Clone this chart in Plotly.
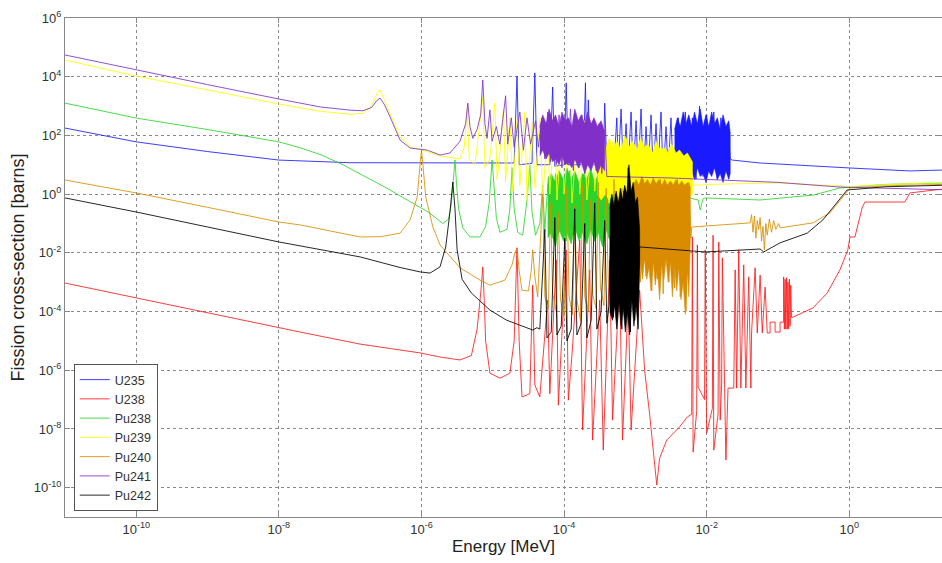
import plotly.graph_objects as go

# ---------------- data (log10 energy [MeV], log10 cross-section [barns]) ----------------
SERIES_NAMES = ["U235", "U238", "Pu238", "Pu239", "Pu240", "Pu241", "Pu242"]

U235_PTS = [(-11, 2.25), (-10, 1.78), (-9, 1.45), (-8, 1.16), (-7, 1.07), (-6, 1.06), (-5, 1.06),
            (-4.70, 1.06), (-4.66, 4.02), (-4.63, 1.0), (-4.45, 1.05), (-4.41, 4.13), (-4.38, 1.0),
            (-4.20, 1.0), (-4.16, 3.65), (-4.13, 0.95), (-4.00, 1.0), (-3.97, 3.79), (-3.94, 1.0),
            (-3.73, 1.0), (-3.70, 3.79), (-3.68, 1.1), (-3.66, 3.21), (-3.63, 1.0), (-3.45, 1.0),
            (-3.43, 3.10), (-3.40, 1.0), (-3.30, 1.0), (-3.26, 2.6), (-3.24, 0.9), (-3.20, 2.9),
            (-3.17, 0.8), (-3.13, 2.4), (-3.10, 0.9), (-3.06, 2.8), (-3.03, 0.7), (-2.99, 2.5),
            (-2.96, 0.8), (-2.92, 2.9), (-2.89, 0.6), (-2.85, 2.3), (-2.82, 0.8), (-2.78, 2.7),
            (-2.75, 0.7), (-2.71, 2.4), (-2.68, 0.9), (-2.64, 2.8), (-2.61, 0.6), (-2.57, 2.3),
            (-2.54, 0.8), (-2.50, 2.6), (-2.47, 0.7), (-2.40, 2.6), (-2.35, 0.6), (-2.30, 2.8),
            (-2.25, 0.7), (-2.20, 2.6), (-2.15, 0.5), (-2.10, 3.0), (-2.05, 0.6), (-2.00, 2.7),
            (-1.95, 0.7), (-1.90, 2.8), (-1.85, 0.5), (-1.80, 2.6), (-1.75, 0.7), (-1.70, 2.4),
            (-1.67, 1.2), (-1.64, 1.16), (-1.25, 1.06), (0.01, 0.89), (0.85, 0.79), (1.30, 0.82)]
U235_BAND = [(-2.45, 2.2), (-2.41, 2.6), (-2.37, 2.3), (-2.33, 2.8), (-2.29, 2.4), (-2.25, 2.7),
             (-2.21, 2.3), (-2.17, 2.8), (-2.13, 2.4), (-2.09, 2.9), (-2.05, 2.3), (-2.01, 2.7),
             (-1.97, 2.3), (-1.93, 2.8), (-1.89, 2.4), (-1.85, 2.6), (-1.81, 2.2), (-1.77, 2.7),
             (-1.73, 2.3), (-1.69, 2.5), (-1.67, 2.1),
             (-1.67, 0.7), (-1.69, 0.5), (-1.73, 0.8), (-1.77, 0.4), (-1.81, 0.7), (-1.85, 0.5),
             (-1.89, 0.9), (-1.93, 0.6), (-1.97, 0.8), (-2.01, 0.4), (-2.05, 0.7), (-2.09, 0.6),
             (-2.13, 0.9), (-2.17, 0.5), (-2.21, 0.8), (-2.25, 0.6), (-2.29, 0.9), (-2.33, 0.5),
             (-2.37, 0.8), (-2.41, 0.6), (-2.45, 0.9)]

U238_PTS = [(-11, -3.03), (-10, -3.54), (-9, -4.05), (-8, -4.56), (-7.7, -4.70), (-6.86, -5.11),
            (-6.02, -5.41), (-5.74, -5.55), (-5.46, -5.65), (-5.30, -5.5), (-5.22, -4.6), (-5.17, -3.4),
            (-5.14, -2.48), (-5.12, -3.6), (-5.10, -5.0), (-5.04, -6.10), (-4.90, -6.27), (-4.76, -6.10),
            (-4.70, -5.0), (-4.66, -1.83), (-4.63, -5.0), (-4.59, -6.91), (-4.48, -6.8), (-4.44, -3.10),
            (-4.41, -6.5), (-4.34, -6.91), (-4.23, -3.61), (-4.20, -6.8), (-4.11, -2.24), (-4.08, -7.19),
            (-3.97, -1.90), (-3.94, -7.02), (-3.89, -5.5), (-3.78, -1.56), (-3.74, -8.04), (-3.64, -2.58),
            (-3.60, -8.38), (-3.50, -3.61), (-3.45, -8.72), (-3.36, -2.24), (-3.32, -7.70), (-3.22, -2.93),
            (-3.18, -8.38), (-3.10, -3.61), (-3.06, -8.04), (-2.94, -3.27), (-2.90, -5.0), (-2.87, -6.0),
            (-2.80, -7.5), (-2.76, -8.5), (-2.70, -9.91), (-2.66, -9.0), (-2.56, -8.38), (-2.38, -7.93),
            (-2.27, -7.59), (-2.21, -7.5), (-2.20, -1.46), (-2.19, -8.79), (-2.14, -7.4), (-2.13, -1.73),
            (-2.12, -6.57), (-2.03, -7.0), (-2.02, -1.90), (-2.00, -8.14), (-1.92, -7.3), (-1.91, -1.40),
            (-1.90, -8.72), (-1.84, -7.5), (-1.83, -1.63), (-1.81, -7.70), (-1.79, -6.5), (-1.78, -2.17),
            (-1.73, -9.06), (-1.70, -6.61), (-1.62, -6.61), (-1.60, -2.58), (-1.58, -6.61), (-1.55, -1.90),
            (-1.52, -6.61), (-1.48, -2.41), (-1.45, -6.61), (-1.41, -2.82), (-1.38, -6.61), (-1.37, -4.73),
            (-1.32, -2.51), (-1.29, -4.73), (-1.25, -2.76), (-1.22, -4.73), (-1.18, -3.17), (-1.15, -4.73),
            (-1.11, -4.73), (-1.11, -4.36), (-1.04, -4.36), (-1.04, -4.70), (-0.97, -4.70), (-0.97, -4.36),
            (-0.92, -4.36), (-0.92, -2.82), (-0.91, -4.6), (-0.90, -2.9), (-0.89, -4.6), (-0.88, -2.85),
            (-0.87, -4.6), (-0.86, -3.0), (-0.85, -4.6), (-0.84, -2.9), (-0.83, -4.5), (-0.82, -3.1),
            (-0.81, -4.2), (-0.79, -4.19), (-0.51, -3.88), (-0.31, -3.37), (-0.13, -2.58), (-0.02, -1.90),
            (0.01, -1.46), (0.08, -1.46), (0.18, -0.47), (0.22, -0.27), (0.78, -0.27), (0.85, 0.04),
            (1.30, 0.17)]

PU238_PTS = [(-11, 3.10), (-10, 2.59), (-9, 2.2), (-8, 1.78), (-7.7, 1.58), (-7.4, 1.33), (-7.1, 1.0),
             (-6.8, 0.62), (-6.5, 0.22), (-6.2, -0.20), (-5.9, -0.62), (-5.70, -1.0), (-5.62, -0.85),
             (-5.58, -0.3), (-5.55, 0.5), (-5.53, 1.16),
             (-5.51, 0.4), (-5.48, -0.5), (-5.42, -1.15), (-5.32, -1.46), (-5.18, -1.46), (-5.10, -1.1),
             (-5.05, -0.3), (-5.01, 1.16), (-4.98, 0.2), (-4.95, -0.8), (-4.90, -1.3), (-4.80, -1.2),
             (-4.76, -0.5), (-4.73, 0.9), (-4.70, -0.5), (-4.65, -1.3), (-4.58, -1.4), (-4.52, -0.2),
             (-4.48, 1.0), (-4.45, -0.6), (-4.40, -1.4), (-4.34, -1.0), (-4.30, 0.3), (-4.27, -1.2),
             (-4.22, 0.6), (-4.17, -1.5), (-4.12, 0.7), (-4.07, -1.3), (-4.02, 0.5), (-3.97, -1.6),
             (-3.92, 0.8), (-3.87, -1.4), (-3.82, 0.4), (-3.77, -1.5), (-3.72, 0.7), (-3.67, -1.3),
             (-3.62, 0.5), (-3.57, -1.6), (-3.52, 0.6), (-3.47, -1.4), (-3.42, 0.3), (-3.37, -1.5),
             (-3.32, 0.5), (-3.27, -1.3), (-3.22, 0.4), (-3.17, -1.4), (-3.10, 0.1), (-3.05, -0.5),
             (-2.9, -0.1), (-2.3, -0.1), (-2.12, -0.2), (-2.09, -0.54), (-2.05, -0.15), (-2.02, -0.13),
             (-1.25, -0.20), (-0.5, -0.03), (-0.13, 0.21), (0.01, 0.24), (0.5, 0.33), (1.30, 0.38)]
PU238_BAND = [(-4.23, 0.3), (-4.18, 0.7), (-4.12, 0.4), (-4.07, 0.8), (-4.01, 0.5), (-3.96, 0.9),
              (-3.90, 0.5), (-3.85, 0.8), (-3.79, 0.4), (-3.74, 0.7), (-3.68, 0.5), (-3.63, 0.9),
              (-3.57, 0.4), (-3.52, 0.7), (-3.46, 0.5), (-3.41, 0.8), (-3.35, 0.4), (-3.30, 0.6),
              (-3.24, 0.3), (-3.19, 0.5), (-3.13, 0.2), (-3.08, 0.1),
              (-3.08, -1.3), (-3.13, -1.6), (-3.19, -1.2), (-3.24, -1.7), (-3.30, -1.3), (-3.35, -1.6),
              (-3.41, -1.2), (-3.46, -1.8), (-3.52, -1.3), (-3.57, -1.6), (-3.63, -1.2), (-3.68, -1.7),
              (-3.74, -1.3), (-3.79, -1.6), (-3.85, -1.1), (-3.90, -1.7), (-3.96, -1.3), (-4.01, -1.6),
              (-4.07, -1.2), (-4.12, -1.8), (-4.18, -1.3), (-4.23, -1.5)]

PU239_PTS = [(-11, 4.57), (-10, 4.02), (-9, 3.55), (-8, 3.07), (-7.42, 2.82), (-7.0, 2.72), (-6.82, 2.75),
             (-6.70, 3.0), (-6.62, 3.45), (-6.58, 3.55), (-6.52, 3.2), (-6.44, 2.75), (-6.30, 1.95),
             (-6.16, 1.60), (-5.92, 1.45), (-5.74, 1.30), (-5.60, 1.25), (-5.46, 1.2), (-5.40, 1.6),
             (-5.36, 2.9), (-5.33, 1.2), (-5.25, 1.0), (-5.14, 3.3), (-5.11, 0.9), (-5.04, 1.2),
             (-4.97, 3.1), (-4.94, 0.5), (-4.90, 1.4), (-4.85, 2.9), (-4.82, 0.4), (-4.76, 2.6),
             (-4.72, 0.1), (-4.66, 2.5), (-4.62, 0.3), (-4.55, 2.8), (-4.52, -0.2), (-4.45, 2.4),
             (-4.41, 0.2), (-4.34, 2.6), (-4.30, -0.1), (-4.23, 2.2), (-4.20, 0.0), (-4.13, 2.5),
             (-4.10, -0.2), (-4.03, 2.3), (-4.00, 0.0), (-3.92, 2.4), (-3.89, -0.3), (-3.81, 2.2),
             (-3.78, 0.0), (-3.71, 2.5), (-3.68, -0.2), (-3.60, 2.1), (-3.57, 0.1), (-3.52, 1.6),
             (-3.47, -0.1), (-3.42, 1.7), (-3.37, -0.3), (-3.32, 1.8), (-3.27, -0.1), (-3.22, 1.6),
             (-3.17, -0.3), (-3.12, 1.9), (-3.07, -0.2), (-3.02, 1.7), (-2.97, 0.0), (-2.92, 1.8),
             (-2.87, -0.2), (-2.82, 1.6), (-2.77, -0.1), (-2.72, 1.7), (-2.67, 0.0), (-2.62, 1.5),
             (-2.57, -0.2), (-2.52, 1.6), (-2.47, 0.1), (-2.42, 1.4), (-2.37, -0.1), (-2.32, 1.3),
             (-2.27, 0.1), (-2.23, 0.3), (-1.67, 0.35), (-1.0, 0.38), (-0.13, 0.28), (0.01, 0.26),
             (0.5, 0.32), (1.30, 0.40)]
PU239_BAND = [(-3.53, 1.5), (-3.48, 1.8), (-3.42, 1.5), (-3.37, 1.9), (-3.31, 1.6), (-3.26, 1.8),
              (-3.20, 1.5), (-3.15, 2.0), (-3.09, 1.6), (-3.04, 1.8), (-2.98, 1.5), (-2.93, 1.9),
              (-2.87, 1.6), (-2.82, 1.7), (-2.76, 1.4), (-2.71, 1.8), (-2.65, 1.5), (-2.60, 1.6),
              (-2.54, 1.4), (-2.49, 1.7), (-2.43, 1.4), (-2.38, 1.5), (-2.32, 1.3), (-2.27, 1.4),
              (-2.20, 1.1),
              (-2.20, 0.0), (-2.27, -0.2), (-2.32, 0.1), (-2.38, -0.1), (-2.43, 0.1), (-2.49, -0.2),
              (-2.54, 0.0), (-2.60, -0.2), (-2.65, 0.1), (-2.71, -0.1), (-2.76, 0.0), (-2.82, -0.3),
              (-2.87, 0.0), (-2.93, -0.2), (-2.98, 0.0), (-3.04, -0.3), (-3.09, -0.1), (-3.15, -0.3),
              (-3.20, -0.1), (-3.26, -0.3), (-3.31, 0.0), (-3.37, -0.2), (-3.42, 0.0), (-3.48, -0.2),
              (-3.53, 0.0)]

PU240_PTS = [(-11, 0.48), (-10, 0.04), (-9, -0.45), (-8, -0.95), (-7.7, -1.05), (-6.86, -1.46),
             (-6.57, -1.45), (-6.30, -1.33), (-6.16, -0.88), (-6.06, -0.1), (-6.02, 1.0), (-6.00, 1.50),
             (-5.98, 1.0), (-5.94, -0.1), (-5.84, -1.12), (-5.74, -1.73), (-5.46, -2.51), (-5.18, -2.93),
             (-5.04, -3.10), (-4.83, -2.93), (-4.73, -2.41), (-4.69, -2.0), (-4.66, -1.83), (-4.63, -2.6),
             (-4.59, -3.27), (-4.50, -3.3), (-4.46, -2.6), (-4.44, -1.9), (-4.41, -2.8), (-4.37, -3.5),
             (-4.30, 0.0), (-4.27, -3.5), (-4.22, -3.9), (-4.19, -0.3), (-4.16, -3.4), (-4.11, -4.0),
             (-4.08, -0.6), (-4.05, -3.6), (-4.00, -4.2), (-3.96, 0.2), (-3.93, -3.5), (-3.88, -4.1),
             (-3.85, -0.4), (-3.82, -3.6), (-3.77, -4.3), (-3.74, 0.3), (-3.71, -3.5), (-3.66, -4.0),
             (-3.63, -0.2), (-3.60, -3.4), (-3.55, -3.9), (-3.52, 0.4), (-3.49, -3.2), (-3.44, -3.8),
             (-3.41, 0.2), (-3.38, -3.0), (-3.33, -3.7), (-3.30, 0.5), (-3.27, -3.1), (-3.22, -3.6),
             (-3.19, 0.2), (-3.16, -3.0), (-3.11, -3.5), (-3.08, 0.4), (-3.05, -2.9), (-3.01, -2.6),
             (-2.97, 0.4), (-2.93, -3.0), (-2.89, 0.5), (-2.85, -2.8), (-2.81, 0.3), (-2.77, -3.3),
             (-2.73, 0.4), (-2.69, -2.9), (-2.65, 0.5), (-2.61, -3.4), (-2.57, 0.3), (-2.53, -3.0),
             (-2.49, 0.4), (-2.45, -3.2), (-2.41, 0.5), (-2.37, -3.5), (-2.33, 0.3), (-2.29, -4.0),
             (-2.25, 0.4), (-2.22, -1.5), (-2.21, -1.12), (-1.39, -0.98), (-1.37, -0.7), (-1.35, -1.3),
             (-1.33, -0.75), (-1.31, -1.5), (-1.29, -0.9), (-1.27, -1.2), (-1.25, -0.8), (-1.23, -1.6),
             (-1.21, -1.1), (-1.19, -1.9), (-1.17, -1.0), (-1.15, -1.4), (-1.12, -0.85), (-1.09, -1.3),
             (-1.06, -0.9), (-1.03, -1.2), (-0.99, -1.0), (-0.97, -1.15), (-0.51, -0.98), (-0.27, -0.64),
             (-0.09, -0.10), (0.01, 0.21), (0.5, 0.28), (1.30, 0.33)]
PU240_BAND = [(-3.03, 0.3), (-2.99, 0.5), (-2.95, 0.3), (-2.91, 0.6), (-2.87, 0.35), (-2.83, 0.5),
              (-2.79, 0.3), (-2.75, 0.55), (-2.71, 0.35), (-2.67, 0.5), (-2.63, 0.3), (-2.59, 0.5),
              (-2.55, 0.3), (-2.51, 0.45), (-2.47, 0.3), (-2.43, 0.5), (-2.39, 0.3), (-2.35, 0.45),
              (-2.31, 0.3), (-2.27, 0.4), (-2.23, 0.25),
              (-2.23, -1.6), (-2.25, -3.5), (-2.27, -2.6), (-2.30, -4.1), (-2.33, -3.0), (-2.36, -3.6),
              (-2.39, -2.5), (-2.42, -3.3), (-2.45, -2.4), (-2.48, -3.5), (-2.51, -2.3), (-2.54, -3.0),
              (-2.57, -2.2), (-2.60, -2.9), (-2.63, -2.4), (-2.66, -3.6), (-2.69, -2.5), (-2.72, -3.1),
              (-2.75, -2.3), (-2.78, -3.3), (-2.81, -2.5), (-2.84, -2.9), (-2.87, -2.2), (-2.90, -2.9),
              (-2.93, -2.3), (-2.96, -3.2), (-2.99, -2.4), (-3.03, -2.6)]

PU241_PTS = [(-11, 4.74), (-10, 4.23), (-9, 3.73), (-8, 3.24), (-7.42, 2.97), (-7.0, 2.86), (-6.82, 2.84),
             (-6.70, 2.95), (-6.62, 3.20), (-6.58, 3.27), (-6.52, 3.05), (-6.44, 2.63), (-6.30, 1.84),
             (-6.16, 1.57), (-5.92, 1.50), (-5.74, 1.33), (-5.60, 1.40), (-5.46, 1.80), (-5.38, 2.4),
             (-5.35, 3.10), (-5.32, 2.3), (-5.28, 1.9), (-5.22, 2.2), (-5.17, 2.7), (-5.14, 3.89),
             (-5.11, 2.4), (-5.08, 1.9), (-5.04, 2.87), (-5.01, 1.8), (-4.95, 2.3), (-4.90, 1.7),
             (-4.82, 3.35), (-4.79, 1.7), (-4.74, 2.6), (-4.70, 1.6), (-4.62, 2.8), (-4.57, 1.5),
             (-4.52, 2.6), (-4.47, 1.7), (-4.40, 2.5), (-4.36, 1.6), (-4.31, 2.6), (-4.27, 1.2),
             (-4.23, 2.8), (-4.19, 1.1), (-4.15, 2.5), (-4.11, 1.0), (-4.07, 2.7), (-4.03, 0.9),
             (-3.99, 2.6), (-3.95, 1.0), (-3.91, 2.9), (-3.87, 0.8), (-3.83, 2.5), (-3.79, 0.9),
             (-3.75, 2.7), (-3.71, 0.7), (-3.67, 2.6), (-3.63, 0.9), (-3.59, 2.5), (-3.55, 0.8),
             (-3.51, 2.4), (-3.47, 0.7), (-3.43, 2.2), (-3.40, 0.6), (-2.5, 0.55), (-1.67, 0.48),
             (-1.0, 0.40), (-0.13, 0.24), (0.5, 0.20), (1.30, 0.15)]
PU241_BAND = [(-4.34, 2.3), (-4.30, 2.7), (-4.25, 2.4), (-4.21, 2.9), (-4.16, 2.5), (-4.12, 2.7),
              (-4.07, 2.3), (-4.03, 2.8), (-3.98, 2.5), (-3.94, 2.6), (-3.89, 2.3), (-3.85, 2.9),
              (-3.80, 2.5), (-3.76, 2.7), (-3.71, 2.4), (-3.67, 2.8), (-3.62, 2.4), (-3.58, 2.6),
              (-3.53, 2.3), (-3.48, 2.5), (-3.43, 2.1),
              (-3.43, 0.8), (-3.48, 1.0), (-3.53, 0.7), (-3.58, 1.1), (-3.62, 0.8), (-3.67, 1.0),
              (-3.71, 0.7), (-3.76, 1.1), (-3.80, 0.9), (-3.85, 1.2), (-3.89, 0.9), (-3.94, 1.1),
              (-3.98, 1.0), (-4.03, 1.3), (-4.07, 1.0), (-4.12, 1.2), (-4.16, 1.1), (-4.21, 1.4),
              (-4.25, 1.2), (-4.30, 1.5), (-4.34, 1.3)]

PU242_PTS = [(-11, -0.13), (-10, -0.61), (-9, -1.12), (-8, -1.63), (-6.86, -2.14), (-6.30, -2.50),
             (-6.02, -2.65), (-5.88, -2.69), (-5.74, -2.48), (-5.66, -1.8), (-5.60, -0.6), (-5.56, 0.41),
             (-5.53, -0.5), (-5.50, -1.9), (-5.43, -2.9), (-5.30, -3.37), (-5.04, -3.95), (-4.81, -4.29),
             (-4.44, -4.63), (-4.38, -4.55), (-4.34, -4.6), (-4.27, -1.2), (-4.24, -4.9), (-4.18, -4.7),
             (-4.13, -0.8), (-4.10, -4.8), (-4.04, -4.5), (-3.99, -1.5), (-3.96, -5.0), (-3.90, -4.6),
             (-3.85, -0.5), (-3.82, -4.8), (-3.76, -4.4), (-3.71, -1.0), (-3.68, -4.9), (-3.62, -4.3),
             (-3.57, -0.3), (-3.54, -4.6), (-3.48, -4.0), (-3.43, -0.9), (-3.40, -4.4), (-3.37, -3.8),
             (-3.34, -0.3), (-3.31, -4.2), (-3.28, 0.0), (-3.25, -3.9), (-3.22, -0.4), (-3.19, -4.6),
             (-3.16, 0.1), (-3.13, -4.0), (-3.10, 0.9), (-3.07, -4.7), (-3.04, 0.2), (-3.01, -4.3),
             (-2.98, -0.2), (-2.95, -2.5), (-2.94, -1.80), (-2.5, -1.87), (-2.02, -1.97), (-1.25, -1.87),
             (-1.20, -1.97), (-0.97, -1.66), (-0.59, -1.33), (-0.37, -0.88), (-0.18, -0.30), (-0.03, 0.14),
             (0.5, 0.25), (1.30, 0.30)]
PU242_BAND = [(-3.36, -0.5), (-3.33, 0.0), (-3.30, -0.4), (-3.27, 0.1), (-3.24, -0.3), (-3.21, 0.2),
              (-3.18, -0.2), (-3.15, 0.3), (-3.12, 0.0), (-3.09, 1.0), (-3.06, 0.1), (-3.03, 0.4),
              (-3.00, -0.3), (-2.97, -0.1), (-2.94, -1.2),
              (-2.94, -2.3), (-2.96, -4.6), (-2.99, -3.8), (-3.02, -4.5), (-3.05, -3.6), (-3.08, -4.8),
              (-3.11, -4.0), (-3.14, -4.7), (-3.17, -3.9), (-3.20, -4.5), (-3.23, -3.7), (-3.26, -4.6),
              (-3.29, -3.8), (-3.32, -4.3), (-3.36, -4.0)]

X_TICK_EXP = [-10, -8, -6, -4, -2, 0]
Y_TICK_EXP = [-10, -8, -6, -4, -2, 0, 2, 4, 6]

# ---------------- styles ----------------
COLORS = {"U235": "#1a1aff", "U238": "#ff1a1a", "Pu238": "#2bd42b", "Pu239": "#ffff00",
          "Pu240": "#d98c00", "Pu241": "#8030c8", "Pu242": "#000000"}

SERIES = [("U235", U235_PTS, U235_BAND), ("U238", U238_PTS, None), ("Pu238", PU238_PTS, PU238_BAND),
          ("Pu239", PU239_PTS, PU239_BAND), ("Pu240", PU240_PTS, PU240_BAND),
          ("Pu241", PU241_PTS, PU241_BAND), ("Pu242", PU242_PTS, PU242_BAND)]

fig = go.Figure()
for name, pts, band in SERIES:
    c = COLORS[name]
    if band is not None:
        fig.add_trace(go.Scatter(x=[10 ** e for e, _ in band], y=[10 ** s for _, s in band],
                                 mode="lines", fill="toself", fillcolor=c,
                                 line=dict(color=c, width=0.6), showlegend=False, hoverinfo="skip"))
    fig.add_trace(go.Scatter(x=[10 ** e for e, _ in pts], y=[10 ** s for _, s in pts],
                             mode="lines", name=name, line=dict(color=c, width=0.85)))


def sup_labels(exps):
    return ["10<sup>%d</sup>" % e for e in exps]


axis_common = dict(type="log", ticks="inside", ticklen=5, tickcolor="#888", showline=True,
                   linecolor="#888", linewidth=1, mirror="allticks", showgrid=True,
                   gridcolor="#8a8a8a", griddash="dot", gridwidth=1, zeroline=False,
                   automargin=False, tickfont=dict(size=13, color="#333"))

fig.update_xaxes(range=[-11, 1.301], tickvals=[10 ** e for e in X_TICK_EXP],
                 ticktext=sup_labels(X_TICK_EXP),
                 title=dict(text="Energy [MeV]", font=dict(size=17, color="#222"), standoff=4),
                 **axis_common)
fig.update_yaxes(range=[-11, 6], tickvals=[10 ** e for e in Y_TICK_EXP],
                 ticktext=sup_labels(Y_TICK_EXP),
                 title=dict(text="Fission cross-section [barns]", font=dict(size=18, color="#222"),
                            standoff=4),
                 **axis_common)

fig.update_layout(width=942, height=563, margin=dict(l=65, r=0, t=18, b=46),
                  paper_bgcolor="white", plot_bgcolor="white",
                  font=dict(family="Liberation Sans, Arial, sans-serif", color="#333"),
                  showlegend=True,
                  legend=dict(x=0.01, y=0.012, xanchor="left", yanchor="bottom", bgcolor="white",
                              bordercolor="#555", borderwidth=1, font=dict(size=12.5, color="#333"),
                              itemwidth=30, tracegroupgap=0))

fig.write_html("out.html", config={"displayModeBar": False},
               post_script="document.body.style.margin='0';")
